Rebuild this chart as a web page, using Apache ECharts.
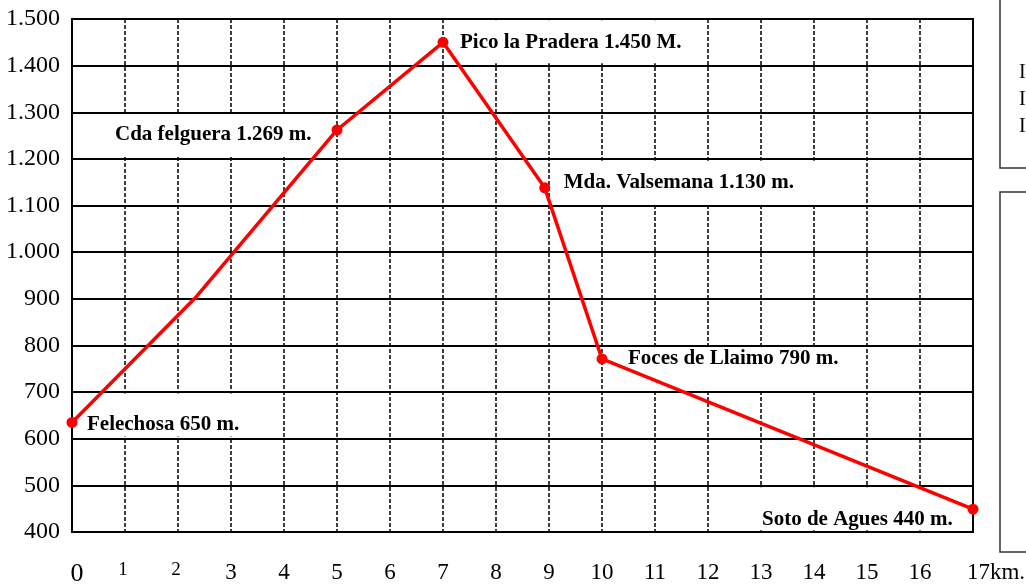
<!DOCTYPE html>
<html>
<head>
<meta charset="utf-8">
<script src="https://cdn.jsdelivr.net/npm/echarts@6/dist/echarts.min.js"></script>
<style>
  html, body { margin: 0; padding: 0; background: #fff; }
  #chart { width: 1026px; height: 585px; }
</style>
</head>
<body>
<div id="chart"></div>
<script>
// perfil: km recorridos y altitud (m)
var km = [0, 2.35, 5, 7, 8.92, 10, 17];
var altitud = [635, 905, 1262, 1450, 1138, 771, 449];
var nombres = ['Felechosa 650 m.', '', 'Cda felguera 1.269 m.', 'Pico la Pradera 1.450 M.',
    'Mda. Valsemana 1.130 m.', 'Foces de Llaimo 790 m.', 'Soto de Agues 440 m.'];
var kmTicks = ['0', '1', '2', '3', '4', '5', '6', '7', '8', '9', '10', '11', '12', '13', '14', '15', '16', '17km.'];
var cajaTextos = ['I', 'I', 'I'];

// caja blanca de cada etiqueta: [position x, position y, padding]
var cajas = [
    [[11, -24], [21, 12, 2, 9]],
    null,
    [[-257, -11], [11, 18, 12, 40]],
    [[10, -17], [12, 14, 11, 12]],
    [[13, -22], [12, 42, 11, 11]],
    [[12, -7], [2, 9, 21, 19]],
    [[-213, -17], [22, 10, 1, 7]]
];

var myChart = echarts.init(document.getElementById('chart'));

var puntos = km.map(function (k, i) {
    var item = { value: [k, altitud[i]] };
    if (!nombres[i]) item.symbol = 'none';
    return item;
});

// las etiquetas van en una serie aparte, debajo de la línea roja
var etiquetas = km.map(function (k, i) {
    var item = { value: [k, altitud[i]] };
    if (!nombres[i]) {
        item.label = { show: false };
        return item;
    }
    item.label = {
        show: true,
        formatter: nombres[i],
        position: cajas[i][0],
        padding: cajas[i][1],
        align: 'left',
        verticalAlign: 'top',
        backgroundColor: '#fff',
        color: '#000',
        fontFamily: 'Liberation Serif',
        fontWeight: 'bold',
        fontSize: 21,
        lineHeight: 20
    };
    return item;
});

myChart.setOption({
    animation: false,
    backgroundColor: '#fff',
    grid: {
        left: 72,
        right: 53,
        top: 19,
        bottom: 53,
        outerBoundsMode: 'none',
        containLabel: false,
        show: true,
        borderColor: '#000',
        borderWidth: 2
    },
    xAxis: {
        type: 'value',
        min: 0,
        max: 17,
        interval: 1,
        axisLine: { show: false },
        axisTick: { show: false },
        splitLine: {
            show: true,
            lineStyle: { color: '#000', width: 1.5, type: [4, 2] }
        },
        axisLabel: {
            margin: 29,
            color: '#000',
            fontFamily: 'Liberation Serif',
            fontSize: 23,
            formatter: function (v) {
                var t = kmTicks[Math.round(v)];
                if (v === 0) return '{big|' + t + '}';
                if (v === 1 || v === 2) return '{small|' + t + '}';
                if (v === 17) return '{last|' + t + '}';
                return t;
            },
            rich: {
                big: { fontFamily: 'Liberation Serif', fontSize: 26, color: '#000', padding: [0, 0, 0, 10] },
                small: { fontFamily: 'Liberation Serif', fontSize: 19, color: '#000', padding: [0, 4, 0, 0] },
                last: { fontFamily: 'Liberation Serif', fontSize: 23, color: '#000', padding: [0, 0, 0, 46] }
            }
        }
    },
    yAxis: {
        type: 'value',
        min: 400,
        max: 1500,
        interval: 100,
        axisLine: { show: false },
        axisTick: { show: false },
        splitLine: {
            show: true,
            lineStyle: { color: '#000', width: 2 }
        },
        axisLabel: {
            margin: 12,
            color: '#000',
            fontFamily: 'Liberation Serif',
            fontSize: 24,
            formatter: function (v) {
                return v >= 1000 ? Math.floor(v / 1000) + '.' + String(v % 1000).padStart(3, '0') : String(v);
            }
        }
    },
    graphic: [
        {
            type: 'rect',
            shape: { x: 1000, y: -5, width: 40, height: 173 },
            style: { fill: '#fff', stroke: '#333', lineWidth: 1.5 }
        },
        {
            type: 'rect',
            shape: { x: 1000, y: 192, width: 40, height: 360 },
            style: { fill: '#fff', stroke: '#333', lineWidth: 1.5 }
        }
    ].concat(cajaTextos.map(function (t, i) {
        return {
            type: 'text',
            x: 1019,
            y: 63 + i * 27,
            style: { text: t, fill: '#000', font: '20px "Liberation Serif"' }
        };
    })),
    series: [
        {
            type: 'line',
            z: 1,
            data: etiquetas,
            symbol: 'circle',
            symbolSize: 10,
            itemStyle: { color: 'rgba(0,0,0,0)' },
            lineStyle: { width: 0, opacity: 0 },
            silent: true,
            labelLayout: { hideOverlap: false }
        },
        {
            type: 'line',
            z: 3,
            data: puntos,
            symbol: 'circle',
            symbolSize: 11,
            itemStyle: { color: '#ff0000' },
            lineStyle: { color: '#ff0000', width: 3.5 }
        }
    ]
});
</script>
</body>
</html>
